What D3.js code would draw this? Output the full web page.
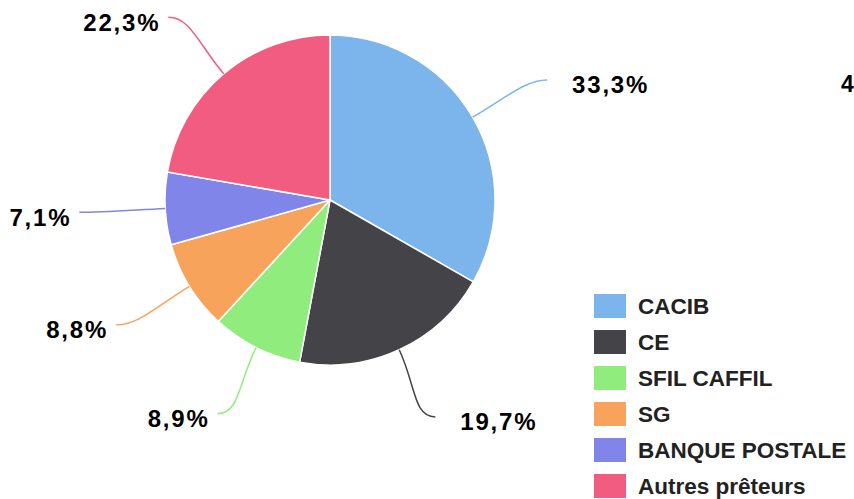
<!DOCTYPE html>
<html><head><meta charset="utf-8">
<script src="https://cdn.jsdelivr.net/npm/d3@7"></script>
<style>
html,body{margin:0;padding:0;background:#fff;}
svg{display:block;}
text{font-family:"Liberation Sans",Arial,sans-serif;font-weight:bold;}
</style></head>
<body>
<svg id="chart" width="854" height="499"></svg>
<script>
const categories = ["CACIB","CE","SFIL CAFFIL","SG","BANQUE POSTALE","Autres prêteurs"];
const values = [33.3, 19.7, 8.9, 8.8, 7.1, 22.3];
const labels = ["33,3%","19,7%","8,9%","8,8%","7,1%","22,3%"];
const colors = ["#7cb5ec","#434348","#90ed7d","#f7a35c","#8085e9","#f15c80"];
const cornerText = "4";

const W = 854, H = 499;
const cx = 330, cy = 200, R = 165, labelRx = 251, labelRy = 239;
const svg = d3.select("#chart");

const data = categories.map((c,i)=>({name:c, value:values[i], label:labels[i], color:colors[i]}));
const pie = d3.pie().value(d=>d.value).sort(null);
const arcs = pie(data);
const arc = d3.arc().innerRadius(0).outerRadius(R);

const g = svg.append("g").attr("transform",`translate(${cx},${cy})`);
g.selectAll("path.slice").data(arcs).join("path")
  .attr("class","slice")
  .attr("d",arc)
  .attr("fill",d=>d.data.color)
  .attr("stroke","#fff").attr("stroke-width",1.5).attr("stroke-linejoin","round");

function pt(angle, rx, ry){ return [Math.sin(angle)*rx, -Math.cos(angle)*(ry===undefined?rx:ry)]; }

arcs.forEach(a=>{
  const mid = (a.startAngle+a.endAngle)/2;
  const s = pt(mid, R);
  const e = pt(mid, labelRx, labelRy);
  const right = e[0] >= 0;
  const dir = right ? 1 : -1;
  const c1 = pt(mid, R + 40);
  const c2 = [e[0] - dir*22, e[1]];
  g.append("path")
    .attr("d",`M${s[0]},${s[1]} C${c1[0]},${c1[1]} ${c2[0]},${c2[1]} ${e[0]},${e[1]}`)
    .attr("fill","none").attr("stroke",a.data.color).attr("stroke-width",1.5);
  g.append("text")
    .attr("x", right ? e[0]+25 : e[0]-8)
    .attr("y", e[1]+5)
    .attr("dy","0.35em")
    .attr("text-anchor", right ? "start" : "end")
    .attr("font-size",24)
    .attr("letter-spacing",1.8)
    .attr("fill","#000")
    .attr("stroke","#fff").attr("stroke-width",2).attr("paint-order","stroke")
    .text(a.data.label);
});

svg.append("text").attr("x",841).attr("y",92).attr("font-size",23).attr("fill","#000").text(cornerText);

const legend = svg.append("g").attr("transform","translate(594,294)");
const items = legend.selectAll("g").data(data).join("g")
  .attr("transform",(d,i)=>`translate(0,${i*36})`);
items.append("rect").attr("width",32).attr("height",24).attr("fill",d=>d.color);
items.append("text").attr("x",44).attr("y",12).attr("dy","0.36em")
  .attr("font-size",22.5).attr("fill","#222").text(d=>d.name);
</script>
</body></html>
